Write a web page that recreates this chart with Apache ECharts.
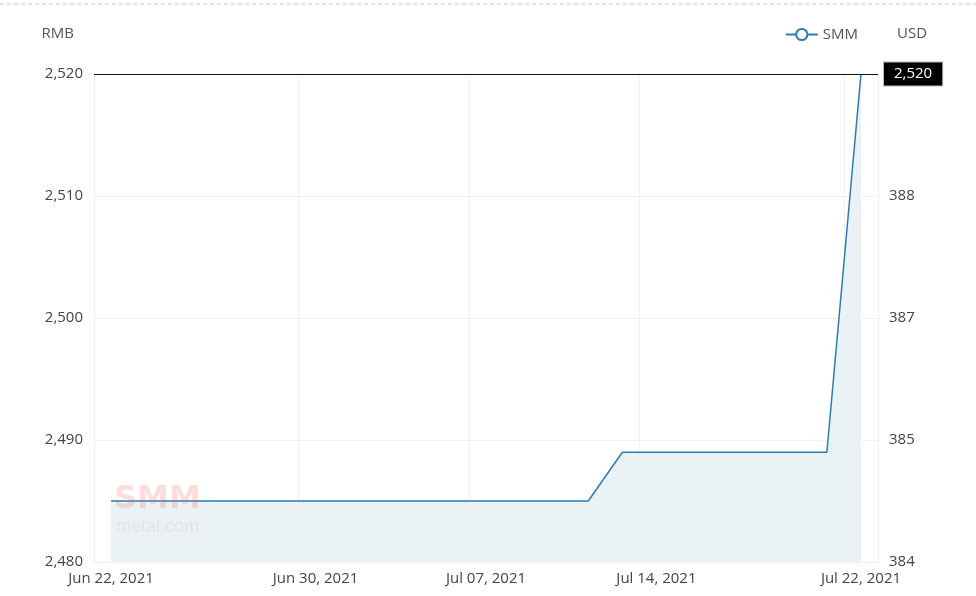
<!DOCTYPE html>
<html><head><meta charset="utf-8">
<script src="https://cdn.jsdelivr.net/npm/echarts@6/dist/echarts.min.js"></script>
<style>html,body{margin:0;padding:0;background:#fff}#c{width:976px;height:596px}</style>
</head><body><div id="c"></div>
<script>
const dates = ['Jun 22, 2021','Jun 23, 2021','Jun 24, 2021','Jun 25, 2021','Jun 28, 2021','Jun 29, 2021','Jun 30, 2021',
  'Jul 01, 2021','Jul 02, 2021','Jul 05, 2021','Jul 06, 2021','Jul 07, 2021','Jul 08, 2021','Jul 09, 2021',
  'Jul 12, 2021','Jul 13, 2021','Jul 14, 2021','Jul 15, 2021','Jul 16, 2021','Jul 19, 2021','Jul 20, 2021','Jul 21, 2021','Jul 22, 2021'];
const smmValues = [2485,2485,2485,2485,2485,2485,2485,2485,2485,2485,2485,2485,2485,2485,2485,
  2489,2489,2489,2489,2489,2489,2489,2520];
const shownLabelIdx = [0,6,11,16,22];
const rmbTicks = [2480,2490,2500,2510,2520];
const usdLabels = ['384','385','387','388',''];
const latestValue = 2520;

const chart = echarts.init(document.getElementById('c'));
const font = '"Open Sans", "Noto Sans", sans-serif';
const showIdx = (i) => shownLabelIdx.indexOf(i) >= 0;
chart.setOption({
  animation: false,
  textStyle: { fontFamily: font },
  grid: { left: 94, right: 98, top: 74, bottom: 34 },
  legend: {
    right: 113, top: 22, itemWidth: 32, itemHeight: 14, itemGap: 8,
    textStyle: { fontSize: 15, color: '#555', fontFamily: font },
    data: ['SMM']
  },
  xAxis: {
    type: 'category', data: dates, boundaryGap: true,
    axisLine: { show: false }, axisTick: { show: false },
    axisLabel: { interval: (i) => showIdx(i), color: '#444', fontSize: 15, margin: 9, fontFamily: font, hideOverlap: false },
    splitLine: { show: true, interval: (i) => showIdx(i), lineStyle: { color: '#f0f0f0' } }
  },
  yAxis: [
    { type: 'value', name: 'RMB', min: 2480, max: 2520, interval: 10, position: 'left',
      nameTextStyle: { color: '#555', fontSize: 15, align: 'right', padding: [0, 20, 18, 0] },
      axisLine: { show: true, lineStyle: { color: '#f0f0f0' } }, axisTick: { show: false },
      axisLabel: { color: '#444', fontSize: 15, margin: 11, formatter: (v) => v.toLocaleString('en-US') },
      splitLine: { lineStyle: { color: '#f0f0f0' } } },
    { type: 'value', name: 'USD', min: 2480, max: 2520, interval: 10, position: 'right',
      nameTextStyle: { color: '#555', fontSize: 15, align: 'left', padding: [0, 0, 18, 19] },
      axisLine: { show: true, lineStyle: { color: '#f0f0f0' } }, axisTick: { show: false },
      axisLabel: { color: '#444', fontSize: 15, margin: 11, formatter: (v) => usdLabels[rmbTicks.indexOf(v)] || '' },
      splitLine: { show: false } }
  ],
  series: [{
    name: 'SMM', type: 'line', data: smmValues, yAxisIndex: 0,
    symbol: 'emptyCircle', symbolSize: 10, showSymbol: false,
    itemStyle: { color: '#2e7bb0' },
    lineStyle: { color: '#2e7bb0', width: 1.5 },
    areaStyle: { color: '#eaf2f6', opacity: 1 },
    markLine: {
      silent: true, symbol: 'none',
      lineStyle: { color: '#111', type: 'solid', width: 1 },
      label: { position: 'end', formatter: (p) => p.value.toLocaleString('en-US'), color: '#fff',
        backgroundColor: '#000', borderColor: '#bbb', borderWidth: 1, padding: [4, 10, 4, 10], fontSize: 15, distance: 6 },
      data: [{ yAxis: latestValue }]
    }
  }],
  graphic: [
    { type: 'line', shape: { x1: 0, y1: 4, x2: 976, y2: 4 }, style: { stroke: '#c8c8c8', lineDash: [4, 3], lineWidth: 1 } },
    { type: 'text', left: 114, top: 484, z: 100, style: { text: 'SMM', font: 'bold 32px "DejaVu Sans", sans-serif', fill: 'rgba(240,95,95,0.22)' } },
    { type: 'text', left: 116, top: 518, z: 100, style: { text: 'metal.com', font: '18px Arial, sans-serif', fill: 'rgba(210,150,150,0.16)' } }
  ]
});
</script></body></html>
